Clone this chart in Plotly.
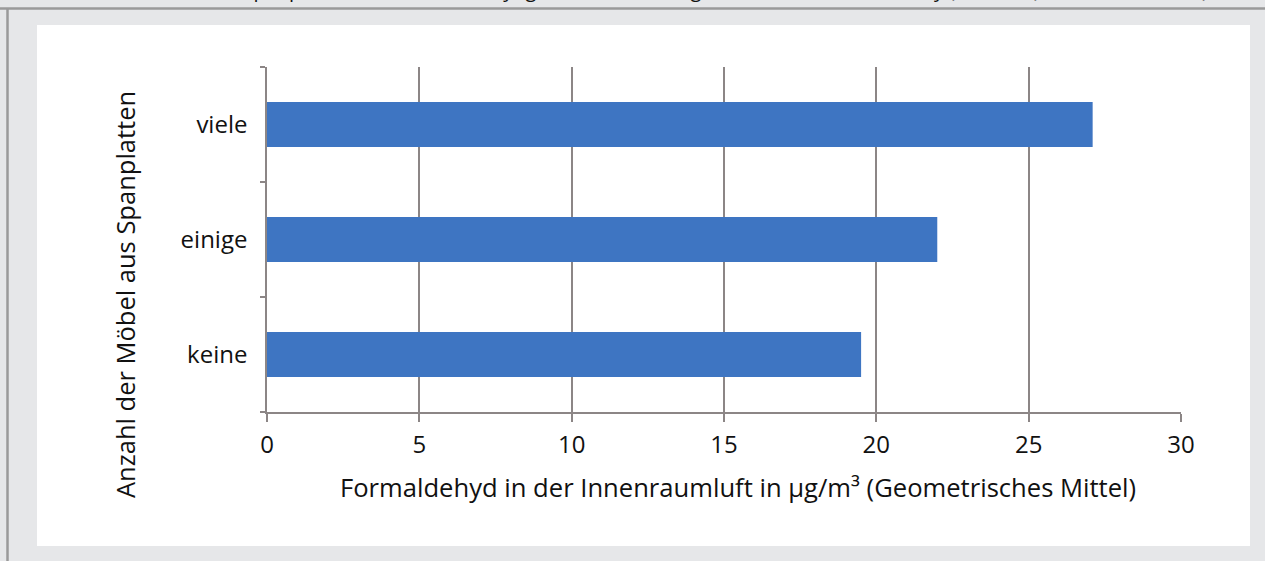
import plotly.graph_objects as go

categories = ["keine", "einige", "viele"]
values = [19.5, 22.0, 27.1]
x_ticks = [0, 5, 10, 15, 20, 25, 30]
x_title = "Formaldehyd in der Innenraumluft in µg/m³ (Geometrisches Mittel)"
y_title = "Anzahl der Möbel aus Spanplatten"
top_title = "Abb. 3: Spanplatten und Formaldehydgehalt in Wohnungen, Kinder-Umwelt-Survey (GerES IV), 2003–2006, UBA)"

W, H = 1265, 561
L, R, T, B = 267, 84, 67, 149
pw, ph = W - L - R, H - T - B

def px_x(px):
    return (px - L) / pw

def px_y(py):
    return (H - B - py) / ph

FONT = "Open Sans"
GRID = "#8c8686"
TXT = "#111111"

fig = go.Figure(go.Bar(
    x=values, y=categories, orientation="h",
    marker=dict(color="#3e75c2", line=dict(width=0)),
    width=0.39,
))

shapes = [
    dict(type="rect", xref="paper", yref="paper",
         x0=px_x(37), x1=px_x(1250), y0=px_y(546), y1=px_y(25),
         fillcolor="white", line=dict(width=0), layer="below"),
    dict(type="line", xref="paper", yref="paper",
         x0=px_x(0), x1=px_x(W), y0=px_y(8.5), y1=px_y(8.5),
         line=dict(color="#9a9a9a", width=2.5)),
    dict(type="line", xref="paper", yref="paper",
         x0=px_x(7.5), x1=px_x(7.5), y0=px_y(8), y1=px_y(H + 2),
         line=dict(color="#9a9a9a", width=2.5)),
]

annotations = [
    dict(text=x_title, xref="paper", yref="paper", x=px_x(738), y=px_y(487),
         xanchor="center", yanchor="middle", showarrow=False,
         font=dict(family=FONT, size=25.6, color=TXT)),
    dict(text=y_title, xref="paper", yref="paper", x=px_x(125), y=px_y(295),
         xanchor="center", yanchor="middle", showarrow=False, textangle=-90,
         font=dict(family=FONT, size=25.5, color=TXT)),
    dict(text=top_title, xref="paper", yref="paper", x=px_x(690), y=px_y(-10.5),
         xanchor="center", yanchor="middle", showarrow=False,
         font=dict(family=FONT, size=20, color=TXT)),
]

fig.update_layout(
    width=W, height=H, autosize=False,
    margin=dict(l=L, r=R, t=T, b=B),
    paper_bgcolor="#e6e7e9",
    plot_bgcolor="white",
    showlegend=False,
    bargap=0.61,
    shapes=shapes,
    annotations=annotations,
    font=dict(family=FONT, size=24, color=TXT),
)

fig.update_xaxes(
    range=[0, 30], tickvals=x_ticks, showgrid=True, gridcolor=GRID, gridwidth=1.5,
    zeroline=False, showline=True, linecolor=GRID, linewidth=1.5,
    ticks="outside", ticklen=8, tickcolor=GRID, tickwidth=1.5,
    ticklabelstandoff=2, tickfont=dict(family=FONT, size=24, color=TXT),
)
fig.update_yaxes(
    categoryorder="array", categoryarray=categories,
    showgrid=False, zeroline=False, showline=True, linecolor=GRID, linewidth=1.5,
    ticks="outside", ticklen=5, tickcolor=GRID, tickwidth=1.5, tickson="boundaries",
    ticklabelstandoff=13, tickfont=dict(family=FONT, size=24, color=TXT),
)

fig.write_html(
    "out.html",
    config={"displayModeBar": False},
    post_script="document.body.style.margin='0';document.body.style.overflow='hidden';",
)
